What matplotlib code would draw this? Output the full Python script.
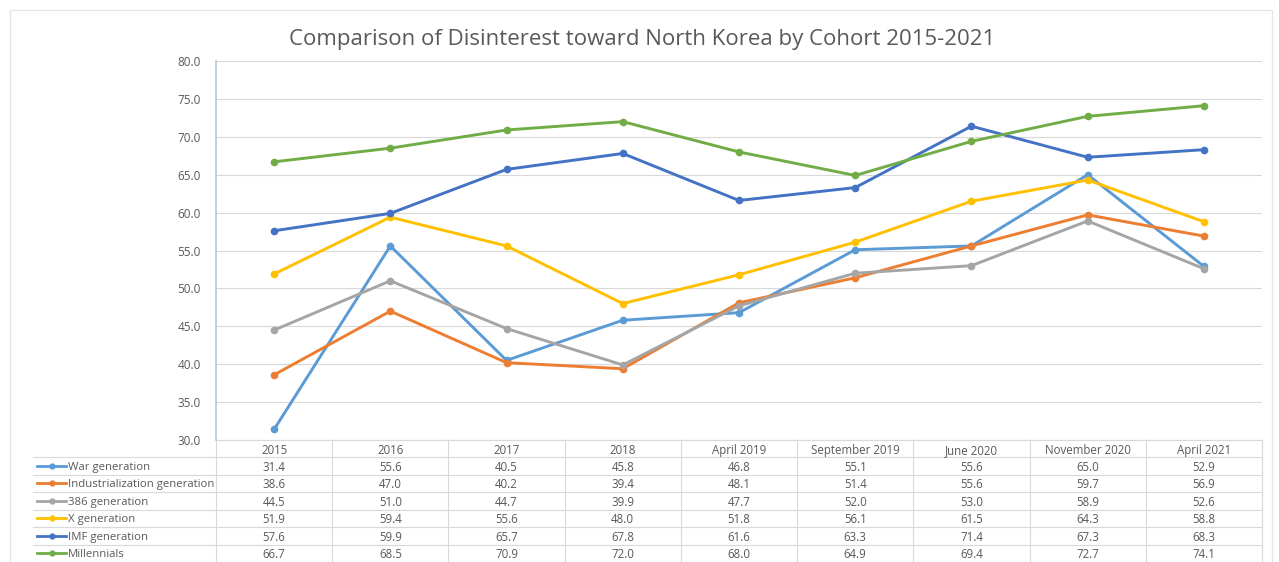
import matplotlib
matplotlib.use("Agg")
import matplotlib.pyplot as plt
from matplotlib.transforms import blended_transform_factory
from matplotlib.lines import Line2D
from matplotlib.patches import Rectangle
import numpy as np

plt.rcParams['font.family'] = ['Open Sans', 'DejaVu Sans']

periods = ["2015", "2016", "2017", "2018", "April 2019", "September 2019",
           "June 2020", "November 2020", "April 2021"]
cohorts = ["War generation", "Industrialization generation", "386 generation",
           "X generation", "IMF generation", "Millennials"]
war = [31.4, 55.6, 40.5, 45.8, 46.8, 55.1, 55.6, 65.0, 52.9]
industrialization = [38.6, 47.0, 40.2, 39.4, 48.1, 51.4, 55.6, 59.7, 56.9]
gen386 = [44.5, 51.0, 44.7, 39.9, 47.7, 52.0, 53.0, 58.9, 52.6]
gen_x = [51.9, 59.4, 55.6, 48.0, 51.8, 56.1, 61.5, 64.3, 58.8]
imf = [57.6, 59.9, 65.7, 67.8, 61.6, 63.3, 71.4, 67.3, 68.3]
millennials = [66.7, 68.5, 70.9, 72.0, 68.0, 64.9, 69.4, 72.7, 74.1]
yticks = [30, 35, 40, 45, 50, 55, 60, 65, 70, 75, 80]

series = [war, industrialization, gen386, gen_x, imf, millennials]
colors = ["#5B9BD5", "#ED7D31", "#A5A5A5", "#FFC000", "#4472C4", "#70AD47"]
txt = "#595959"
grid = "#D9D9D9"

W, H = 1279, 562
fig = plt.figure(figsize=(W / 100, H / 100), dpi=100)

# faint chart border
fig.add_artist(Rectangle((10 / W, -0.1), 1262 / W, 1.1 - 10 / H, transform=fig.transFigure,
                         fill=False, edgecolor='#E6E6E6', lw=1))

ax_l, ax_r, ax_t, ax_b = 216, 1262, 61, 440
ax = fig.add_axes([ax_l / W, 1 - ax_b / H, (ax_r - ax_l) / W, (ax_b - ax_t) / H])

x = np.arange(len(periods))
for vals, c in zip(series, colors):
    ax.plot(x, vals, color=c, lw=2.1, marker='o', ms=4.5, zorder=3)

ax.set_xlim(-0.5, len(periods) - 0.5)
ax.set_ylim(30, 80)
ax.set_yticks(yticks)
ax.set_yticklabels([f"{v:.1f}" for v in yticks], color=txt, fontsize=8.5)
ax.tick_params(axis='y', length=0, pad=11)
ax.set_xticks([])
ax.yaxis.grid(True, color=grid, lw=0.8)
ax.set_axisbelow(True)
for s in ['top', 'right', 'bottom']:
    ax.spines[s].set_visible(False)
ax.spines['left'].set_color('#B4C7DC')
ax.spines['left'].set_linewidth(1.2)

fig.text(0.502, 1 - 37 / H, "Comparison of Disinterest toward North Korea by Cohort 2015-2021",
         ha='center', va='center_baseline', fontsize=16, color=txt)

# data table under the plot
trans = blended_transform_factory(ax.transData, ax.transAxes)
ph = ax_b - ax_t
row_h = 17.5
def ay(py):
    return (ax_b - py) / ph

# header row
for i, p in enumerate(periods):
    ax.text(i, ay(ax_b + 9), p, transform=trans, ha='center', va='center_baseline',
            fontsize=8.3, color=txt, clip_on=False)

# row lines
label_left = (33 - ax_l) / (ax_r - ax_l)
for k in range(len(cohorts) + 1):
    py = ax_b + 17 + k * row_h
    ax.add_line(Line2D([label_left, 1], [ay(py), ay(py)], transform=ax.transAxes,
                       color=grid, lw=0.8, clip_on=False))
ax.add_line(Line2D([0, 1], [0, 0], transform=ax.transAxes, color=grid, lw=0.8, clip_on=False))
# column lines
for b in np.arange(len(periods) + 1) - 0.5:
    ax.add_line(Line2D([b, b], [0, ay(H)], transform=trans, color=grid, lw=0.8, clip_on=False))

for r, (name, vals, c) in enumerate(zip(cohorts, series, colors)):
    cy = ay(ax_b + 17 + r * row_h + row_h / 2)
    kx0 = (37 - ax_l) / (ax_r - ax_l)
    kx1 = (66 - ax_l) / (ax_r - ax_l)
    ax.add_line(Line2D([kx0, kx1], [cy, cy], transform=ax.transAxes, color=c, lw=2,
                       clip_on=False))
    ax.add_line(Line2D([(kx0 + kx1) / 2], [cy], transform=ax.transAxes, color=c,
                       marker='o', ms=3.5, clip_on=False))
    ax.text((68 - ax_l) / (ax_r - ax_l), cy, name, transform=ax.transAxes, ha='left',
            va='center_baseline', fontsize=8.2, color=txt, clip_on=False)
    for i, v in enumerate(vals):
        ax.text(i, cy, f"{v:.1f}", transform=trans, ha='center', va='center_baseline',
                fontsize=8.3, color=txt, clip_on=False)

fig.savefig("out.png", dpi=100)
